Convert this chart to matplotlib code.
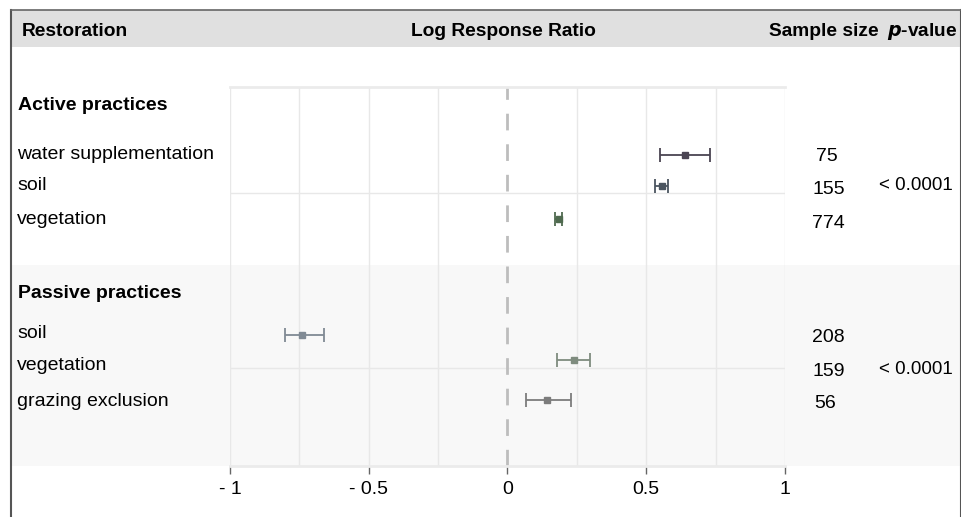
import matplotlib
matplotlib.use("Agg")
import matplotlib.pyplot as plt
from matplotlib.patches import Rectangle
from matplotlib.lines import Line2D

plt.rcParams['font.family'] = ['Liberation Sans', 'DejaVu Sans']

# data
groups = ["Active practices", "Passive practices"]
active_labels = ["water supplementation", "soil", "vegetation"]
active_mean = [0.64, 0.555, 0.184]
active_lo = [0.55, 0.533, 0.17]
active_hi = [0.73, 0.577, 0.198]
active_n = [75, 155, 774]
passive_labels = ["soil", "vegetation", "grazing exclusion"]
passive_mean = [-0.739, 0.238, 0.144]
passive_lo = [-0.80, 0.177, 0.068]
passive_hi = [-0.663, 0.299, 0.23]
passive_n = [208, 159, 56]
p_values = ["< 0.0001", "< 0.0001"]
xticks = [-1, -0.5, 0, 0.5, 1]
xtick_labels = ["- 1", "- 0.5", "0", "0.5", "1"]

# layout (pixel rows of the original picture)
W, H = 962, 517
act_y = [155, 186, 219]
pas_y = [335, 360, 400]
act_cols = ["#4a4452", "#4b5560", "#4f6a4f"]
pas_cols = ["#808a94", "#7f8c7f", "#7c7c7c"]
FS = 14

fig = plt.figure(figsize=(W / 100, H / 100), dpi=100)

def fx(px):
    return px / W

def fy(py):
    return 1 - py / H

# frame and header
fig.patches.append(Rectangle((fx(11), fy(47)), fx(950), fy(10) - fy(47),
                             transform=fig.transFigure, facecolor="#e0e0e0",
                             edgecolor="none", zorder=-2))
fig.patches.append(Rectangle((fx(12), fy(466)), fx(948), fy(265) - fy(466),
                             transform=fig.transFigure, facecolor="#f8f8f8",
                             edgecolor="none", zorder=-2))
fig.lines.append(Line2D([fx(11), fx(11)], [0, fy(10)], transform=fig.transFigure,
                        color="#555555", lw=1.5))
fig.lines.append(Line2D([fx(961), fx(961)], [0, fy(10)], transform=fig.transFigure,
                        color="#555555", lw=1.5))
fig.lines.append(Line2D([fx(11), fx(961)], [fy(10), fy(10)], transform=fig.transFigure,
                        color="#666666", lw=1.2))

hdr = dict(fontsize=13.8, fontweight="bold", va="center")
fig.text(fx(22), fy(31), "Restoration", ha="left", **hdr)
fig.text(fx(503), fy(31), "Log Response Ratio", ha="center", **hdr)
fig.text(fx(879), fy(31), "Sample size", ha="right", **hdr)
fig.text(fx(958), fy(31), "$\\mathbfit{p}$-value", ha="right", **hdr)

ax = fig.add_axes([fx(230), fy(466), fx(785) - fx(230), fy(87) - fy(466)])
ax.set_zorder(1)
ax.set_facecolor("none")
ax.set_xlim(-1, 1)
ax.set_ylim(466, 87)
for v in [-1, -0.75, -0.5, -0.25, 0.25, 0.5, 0.75, 1]:
    ax.axvline(v, color="#e8e8e8", lw=1, zorder=1)
ax.axvline(0, color="#bdbdbd", lw=2, dashes=(6, 5), zorder=2)
ax.axhline(193, color="#e8e8e8", lw=1, zorder=1)
ax.axhline(368, color="#e8e8e8", lw=1, zorder=1)

for ys, m, lo, hi, cols in [(act_y, active_mean, active_lo, active_hi, act_cols),
                            (pas_y, passive_mean, passive_lo, passive_hi, pas_cols)]:
    for y, mm, l, h, c in zip(ys, m, lo, hi, cols):
        ax.errorbar([mm], [y], xerr=[[mm - l], [h - mm]], fmt="s", color=c,
                    ms=5, capsize=5, elinewidth=1.3, capthick=1.3, zorder=3)

ax.set_yticks([])
ax.set_xticks(xticks)
ax.set_xticklabels(xtick_labels, fontsize=FS)
ax.tick_params(axis="x", length=6, width=1, color="#666666", pad=5)
for s in ["left", "right"]:
    ax.spines[s].set_visible(False)
ax.spines["top"].set_color("#ebebeb")
ax.spines["bottom"].set_color("#ebebeb")
ax.spines["top"].set_linewidth(2)
ax.spines["bottom"].set_linewidth(2)

# row labels
fig.text(fx(18), fy(106), groups[0], fontsize=FS, fontweight="bold", va="center")
fig.text(fx(18), fy(294), groups[1], fontsize=FS, fontweight="bold", va="center")
for lab, y in zip(active_labels, [155, 186, 219]):
    fig.text(fx(17), fy(y), lab, fontsize=FS, va="center")
for lab, y in zip(passive_labels, [334, 366, 401]):
    fig.text(fx(17), fy(y), lab, fontsize=FS, va="center")

for n, x, y in zip(active_n, [816, 812, 812], [156, 190, 223]):
    fig.text(fx(x), fy(y), str(n), fontsize=FS, va="center")
for n, x, y in zip(passive_n, [812, 812, 814], [337, 371, 404]):
    fig.text(fx(x), fy(y), str(n), fontsize=FS, va="center")
fig.text(fx(879), fy(185), p_values[0], fontsize=13.5, va="center")
fig.text(fx(879), fy(369), p_values[1], fontsize=13.5, va="center")

fig.savefig("out.png", dpi=100)
